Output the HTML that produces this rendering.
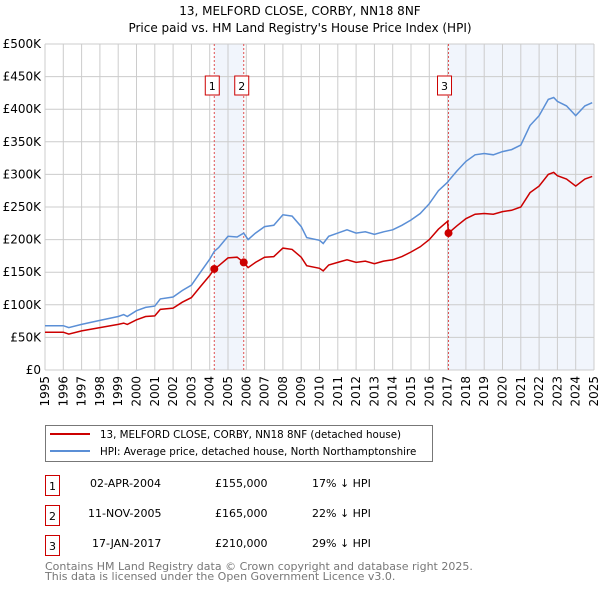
<!DOCTYPE html>
<html><head><meta charset="utf-8"><style>
body{margin:0;background:#fff;font-family:"DejaVu Sans","Liberation Sans",sans-serif;}
svg text{font-family:"DejaVu Sans","Liberation Sans",sans-serif;}
</style></head><body>
<svg id="chart" width="600" height="590" xmlns="http://www.w3.org/2000/svg">
<text x="300" y="15" text-anchor="middle" font-size="12">13, MELFORD CLOSE, CORBY, NN18 8NF</text>
<text x="300" y="32" text-anchor="middle" font-size="12">Price paid vs. HM Land Registry's House Price Index (HPI)</text>
<g id="plot"></g>
<g>
<rect x="45.5" y="425.5" width="387" height="36" fill="#fff" stroke="#777"/>
<line x1="50" y1="434" x2="90" y2="434" stroke="#cc0000" stroke-width="2"/>
<text x="100" y="438" font-size="10.3">13, MELFORD CLOSE, CORBY, NN18 8NF (detached house)</text>
<line x1="50" y1="451" x2="90" y2="451" stroke="#5b8fd6" stroke-width="2"/>
<text x="100" y="455" font-size="10.3">HPI: Average price, detached house, North Northamptonshire</text>
</g>
<g font-size="11">
<rect x="45.5" y="475.5" width="14" height="20" fill="#fff" stroke="#cc0000"/><text x="52.5" y="490" text-anchor="middle">1</text>
<text x="90" y="487">02-APR-2004</text><text x="215" y="487">£155,000</text><text x="312" y="487">17% ↓ HPI</text>
<rect x="45.5" y="505.5" width="14" height="20" fill="#fff" stroke="#cc0000"/><text x="52.5" y="520" text-anchor="middle">2</text>
<text x="88" y="517">11-NOV-2005</text><text x="215" y="517">£165,000</text><text x="312" y="517">22% ↓ HPI</text>
<rect x="45.5" y="535.5" width="14" height="20" fill="#fff" stroke="#cc0000"/><text x="52.5" y="550" text-anchor="middle">3</text>
<text x="92" y="547">17-JAN-2017</text><text x="215" y="547">£210,000</text><text x="312" y="547">29% ↓ HPI</text>
</g>
<text x="45" y="570" font-size="11" fill="#777">Contains HM Land Registry data © Crown copyright and database right 2025.</text>
<text x="45" y="580" font-size="11" fill="#777">This data is licensed under the Open Government Licence v3.0.</text>
</svg>
<script>
const years=[1995,1995.5,1996,1996.3,1997,1998,1999,1999.3,1999.5,2000,2000.5,2001,2001.3,2002,2002.5,2003,2003.5,2004,2004.25,2004.5,2005,2005.5,2005.86,2006.1,2006.5,2007,2007.5,2008,2008.5,2009,2009.3,2010,2010.2,2010.5,2011,2011.5,2012,2012.5,2013,2013.5,2014,2014.5,2015,2015.5,2016,2016.5,2017,2017.05,2017.5,2018,2018.5,2019,2019.5,2020,2020.5,2021,2021.5,2022,2022.5,2022.8,2023,2023.5,2024,2024.5,2024.9];
const hpiValues=[68,68,68,65,70,76,82,85,82,91,96,98,109,112,122,130,150,170,182,188,205,204,210,200,210,220,222,238,236,220,203,199,194,205,210,215,210,212,208,212,215,222,230,240,255,275,288,290,305,320,330,332,330,335,338,345,375,390,415,418,412,405,390,405,410];
const priceValues=[58,58,58,55,60,65,70,72,70,77,82,83,93,95,104,111,128,145,155,160,172,173,165,157,165,173,174,187,185,173,160,156,152,161,165,169,165,167,163,167,169,174,181,189,200,216,228,210,221,232,239,240,239,243,245,250,272,282,300,303,298,293,282,293,297];
const saleYears=[2004.25,2005.86,2017.05];
const salePrices=[155,165,210];
const saleLabels=["1","2","3"];
const yTicks=[0,50,100,150,200,250,300,350,400,450,500];
const yTickLabels=["£0","£50K","£100K","£150K","£200K","£250K","£300K","£350K","£400K","£450K","£500K"];
const xTicks=[1995,1996,1997,1998,1999,2000,2001,2002,2003,2004,2005,2006,2007,2008,2009,2010,2011,2012,2013,2014,2015,2016,2017,2018,2019,2020,2021,2022,2023,2024,2025];

const NS="http://www.w3.org/2000/svg";
const X0=45,X1=594,Y0=370,Y1=44;
const xs=y=>X0+(y-1995)/(2025-1995)*(X1-X0);
const ys=v=>Y0-v/500*(Y0-Y1);
const plot=document.getElementById('plot');
function mk(tag,attrs,parent){const e=document.createElementNS(NS,tag);for(const k in attrs)e.setAttribute(k,attrs[k]);(parent||plot).appendChild(e);return e;}

let r=mk('rect',{x:xs(saleYears[0]),y:Y1,width:xs(saleYears[1])-xs(saleYears[0]),height:Y0-Y1,fill:'#eef2fb',opacity:0.8});


r=mk('rect',{x:xs(saleYears[2]),y:Y1,width:X1-xs(saleYears[2]),height:Y0-Y1,fill:'#eef2fb',opacity:0.8});



yTicks.forEach((t,i)=>{
  const l=mk('line',{x1:X0,x2:X1,y1:ys(t),y2:ys(t),stroke:'#cccccc'});
  
  
  const tx=mk('text',{x:X0-4,y:ys(t)+4,'text-anchor':'end','font-size':12});
  tx.textContent=yTickLabels[i];
  
  
});
xTicks.forEach(t=>{
  const l=mk('line',{x1:xs(t),x2:xs(t),y1:Y1,y2:Y0,stroke:'#cccccc'});
  
  
  const tx=mk('text',{x:0,y:0,'text-anchor':'end','font-size':12,transform:`translate(${xs(t)+4},${Y0+6}) rotate(-90)`});
  tx.textContent=t;
  
  
});

saleYears.forEach(s=>{
  const l=mk('line',{x1:xs(s),x2:xs(s),y1:Y1,y2:Y0,stroke:'#e05050','stroke-dasharray':'2,2','stroke-width':1});
  
  
});

const pts=v=>years.map((y,i)=>xs(y).toFixed(1)+','+ys(v[i]).toFixed(1)).join(' ');
let hl=mk('polyline',{points:pts(hpiValues),fill:'none',stroke:'#5b8fd6','stroke-width':1.5});


let pl=mk('polyline',{points:pts(priceValues),fill:'none',stroke:'#cc0000','stroke-width':1.5});



saleYears.forEach((s,i)=>{
  const c=mk('circle',{cx:xs(s),cy:ys(salePrices[i]),r:4,fill:'#cc0000'});
  
  
  const b=mk('rect',{x:xs(s)-(i==2?11:9),y:76,width:14,height:19,fill:'#fff',stroke:'#cc0000'});
  
  
  const t=mk('text',{x:xs(s)-(i==2?4:2),y:90,'text-anchor':'middle','font-size':11});
  t.textContent=saleLabels[i];
  
  
});
</script>
</body></html>
